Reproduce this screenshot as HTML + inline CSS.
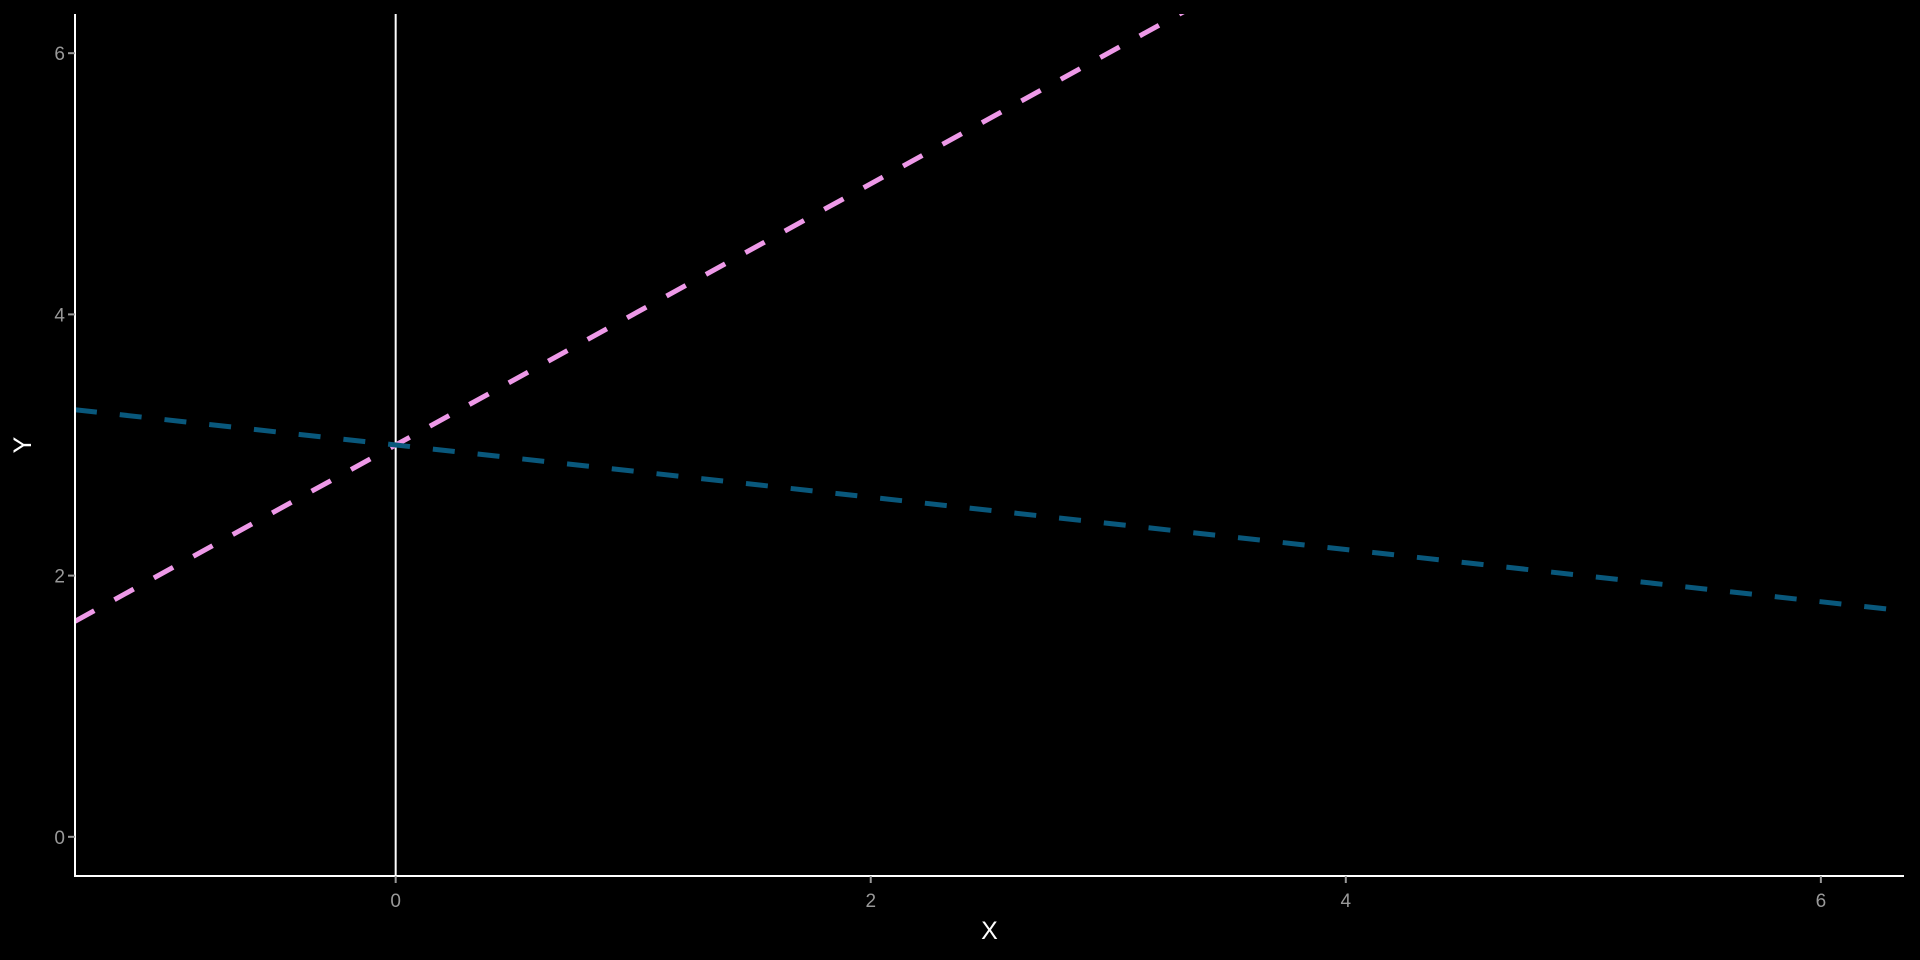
<!DOCTYPE html>
<html><head><meta charset="utf-8"><style>
html,body{margin:0;padding:0;background:#000;}
svg{display:block;font-family:"Liberation Sans",Arial,sans-serif;}
</style></head><body>
<svg id="chart" width="1920" height="960" viewBox="0 0 1920 960" xmlns="http://www.w3.org/2000/svg">
<rect width="1920" height="960" fill="#000"/>
<g id="plot"></g>
</svg>
<script>
const xTicks = [0, 2, 4, 6];
const yTicks = [0, 2, 4, 6];
const xTickLabels = ["0", "2", "4", "6"];
const yTickLabels = ["0", "2", "4", "6"];
const lineNames = ["pink-line", "blue-line"];
const lineIntercepts = [3, 3];
const lineSlopes = [1, -0.2];
const lineColors = ["#ee99e8", "#09587c"];
const vlineX = [0];
const xDomain = [-1.35, 6.35];
const yDomain = [-0.30, 6.30];

const L = 75, R = 1904, T = 14, B = 876;
const xs = v => L + (v - xDomain[0]) / (xDomain[1] - xDomain[0]) * (R - L);
const ys = v => B - (v - yDomain[0]) / (yDomain[1] - yDomain[0]) * (B - T);
const NS = "http://www.w3.org/2000/svg";
const g = document.getElementById('plot');
function mk(tag, attrs) { const e = document.createElementNS(NS, tag); for (const k in attrs) e.setAttribute(k, attrs[k]); g.appendChild(e); return e; }

const defs = mk('defs', {});
const cp = document.createElementNS(NS, 'clipPath'); cp.setAttribute('id', 'clip');
const cr = document.createElementNS(NS, 'rect');
cr.setAttribute('x', L); cr.setAttribute('y', T); cr.setAttribute('width', R - L); cr.setAttribute('height', B - T);
cp.appendChild(cr); defs.appendChild(cp);

vlineX.forEach(v => {
  const e = mk('line', {x1: xs(v), x2: xs(v), y1: T, y2: B, stroke: '#fff', 'stroke-width': 2});
  
  
});

lineNames.forEach((n, i) => {
  const y0 = lineIntercepts[i] + lineSlopes[i] * xDomain[0];
  const y1 = lineIntercepts[i] + lineSlopes[i] * xDomain[1];
  const e = mk('line', {x1: xs(xDomain[0]), y1: ys(y0), x2: xs(xDomain[1]), y2: ys(y1), stroke: lineColors[i], 'stroke-width': 5, 'stroke-dasharray': '22 23', 'clip-path': 'url(#clip)'});
  
  
});

let e = mk('line', {x1: L, x2: L, y1: T, y2: B + 1, stroke: '#fff', 'stroke-width': 2});


e = mk('line', {x1: L - 1, x2: R, y1: B, y2: B, stroke: '#fff', 'stroke-width': 2});



xTicks.forEach((v, i) => {
  let t = mk('line', {x1: xs(v), x2: xs(v), y1: B, y2: B + 7, stroke: '#999', 'stroke-width': 2});
  
  
  t = mk('text', {x: xs(v), y: B + 31, fill: '#999', 'font-size': 19, 'text-anchor': 'middle'});
  t.textContent = xTickLabels[i];
  
  
});
yTicks.forEach((v, i) => {
  let t = mk('line', {x1: L - 7, x2: L, y1: ys(v), y2: ys(v), stroke: '#999', 'stroke-width': 2});
  
  
  t = mk('text', {x: L - 10, y: ys(v) + 7, fill: '#999', 'font-size': 19, 'text-anchor': 'end'});
  t.textContent = yTickLabels[i];
  
  
});

e = mk('text', {x: (L + R) / 2, y: 939, fill: '#fff', 'font-size': 25, 'text-anchor': 'middle'});
e.textContent = 'X';


e = mk('text', {x: 0, y: 0, fill: '#fff', 'font-size': 25, 'text-anchor': 'middle', transform: `translate(31,${(T + B) / 2}) rotate(-90)`});
e.textContent = 'Y';


</script>
</body></html>
